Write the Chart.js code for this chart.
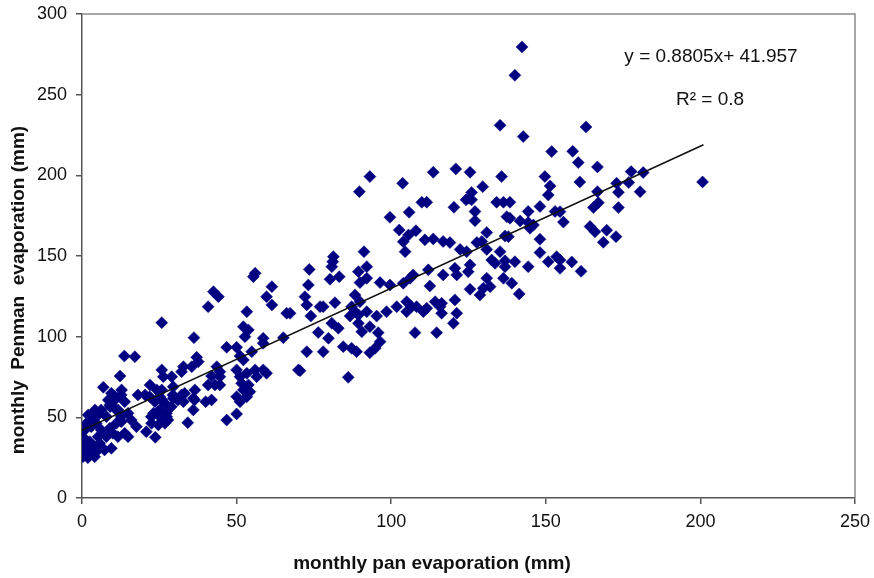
<!DOCTYPE html>
<html>
<head>
<meta charset="utf-8">
<script src="https://cdn.jsdelivr.net/npm/chart.js@4.4.1/dist/chart.umd.min.js"></script>
<style>
html,body{margin:0;padding:0;background:#fff;}
#wrap{width:874px;height:578px;}
</style>
</head>
<body>
<div id="wrap"><canvas id="c" width="874" height="578"></canvas></div>
<script>
// monthly pan evaporation (mm)
const panEvap = [
142.3,140.0,135.2,142.7,163.0,151.9,158.7,160.5,166.7,161.0,200.7,177.6,181.5,172.9,176.8,173.5,180.5,166.7,167.0,165.4,
173.5,155.7,154.6,164.3,165.9,169.7,172.7,168.6,158.4,161.4,154.6,154.6,120.9,125.5,135.7,149.7,151.4,150.8,129.6,126.0,
125.0,126.0,124.2,134.1,136.3,138.4,120.3,127.1,127.1,137.4,138.4,144.3,148.1,153.0,141.7,144.3,146.0,144.9,130.9,136.8,
137.9,148.1,116.8,119.0,127.7,129.3,130.9,122.3,124.4,135.2,148.1,132.5,133.6,136.8,136.8,140.0,144.3,150.8,153.5,116.8,
120.6,121.2,125.5,124.9,136.3,139.0,130.9,132.0,129.8,128.7,125.5,141.4,116.3,116.3,120.6,121.2,120.1,93.1,89.7,103.7,
113.6,109.9,111.5,99.6,105.8,102.6,105.6,108.0,103.9,104.5,110.9,113.6,91.2,81.3,81.1,80.8,73.5,92.1,89.4,92.1,
83.2,80.2,73.2,89.9,96.4,99.6,103.9,106.1,107.1,112.0,112.5,88.3,89.9,81.8,72.1,72.7,77.0,78.0,74.0,67.3,
87.2,88.3,86.7,89.4,92.1,95.3,98.5,101.8,105.0,106.6,105.0,108.2,110.4,111.5,114.2,115.8,80.8,82.9,76.4,79.7,
89.4,90.5,93.1,95.8,107.7,114.7,96.4,94.8,93.1,88.8,87.2,84.5,78.0,72.7,70.5,86.1,56.0,55.4,61.4,42.5,
44.1,59.7,61.4,40.8,53.3,66.2,25.8,52.2,53.8,52.7,36.2,58.6,58.6,65.1,46.8,50.0,51.1,54.9,52.2,37.1,
37.6,35.5,32.8,32.2,29.0,25.8,26.3,43.6,44.6,41.9,44.6,43.0,40.8,44.6,50.0,51.1,53.3,56.0,56.5,58.6,
59.7,51.6,53.8,52.2,54.3,50.0,51.1,53.3,70.0,22.0,20.4,24.2,25.2,23.6,26.8,25.2,23.1,25.2,27.4,22.5,
24.7,26.8,29.5,32.2,29.5,32.8,36.5,36.0,40.0,41.9,36.0,46.8,50.0,34.2,18.1,21.9,9.5,12.7,10.6,13.8,
9.0,6.2,5.2,7.9,11.1,12.7,14.9,15.9,12.7,11.1,3.0,1.4,3.0,0.9,4.6,6.2,9.0,10.0,7.9,5.2,
11.6,13.8,14.9,0.2,0.9,2.5,0.2,1.4,3.6,5.7,0.3,2.5,4.6,7.3,9.5,0.3,1.9,4.1,17.6,20.8,
23.7,22.4,24.6,27.3,27.8,28.9,31.0,29.4,33.2,36.4,13.7,17.1,12.3,6.9,10.7,8.5,12.8,25.8,25.8,4.2,
2.0,9.1,11.7
];
// monthly Penman evaporation (mm)
const penmanEvap = [
279.6,262.0,231.0,224.0,230.0,214.7,214.9,207.9,205.2,195.9,195.9,202.3,201.7,195.1,195.5,189.5,189.9,189.9,183.0,180.0,
180.0,171.0,177.5,168.3,165.0,166.0,162.0,158.5,146.3,140.5,147.5,142.4,204.0,201.9,199.2,199.2,193.4,187.8,193.0,189.3,
185.8,184.8,184.8,183.3,183.3,183.3,180.2,177.6,171.9,174.4,173.4,177.6,180.7,177.6,171.7,170.7,169.2,167.2,164.5,162.4,
162.0,160.4,159.0,158.3,158.3,159.0,154.1,154.1,152.7,152.7,152.1,147.5,145.5,147.1,143.4,146.5,143.4,146.5,149.6,138.3,
142.4,138.3,144.5,140.3,136.2,133.1,136.2,131.0,130.0,125.9,129.4,126.5,120.7,114.5,122.8,114.5,108.3,199.2,189.9,195.1,
201.9,183.3,183.3,174.0,177.1,166.1,163.0,165.7,158.9,152.7,160.0,160.6,152.7,149.6,146.5,143.4,141.7,143.4,140.3,136.2,
137.2,135.6,132.0,133.5,133.5,132.0,133.1,136.2,138.3,141.4,131.4,125.9,121.7,121.1,124.8,119.7,118.6,118.6,112.8,114.5,
118.6,115.5,112.8,113.5,115.5,112.8,115.5,118.6,121.7,118.6,115.5,118.6,115.5,117.6,121.7,118.6,108.3,105.2,102.6,99.0,
108.3,103.1,106.2,102.5,102.5,102.5,96.9,92.8,90.1,90.7,92.8,93.8,90.7,90.7,78.9,74.8,139.3,137.2,131.0,127.9,
124.8,124.8,119.7,118.6,115.5,114.5,108.7,106.2,104.2,100.0,99.4,99.0,95.9,99.4,93.4,93.4,88.0,90.7,85.6,87.2,
84.5,81.4,81.4,78.3,75.2,79.4,75.2,81.4,78.3,75.6,75.2,70.1,70.1,70.1,79.4,75.2,77.3,79.4,75.2,79.4,
77.3,71.1,70.1,67.0,65.9,62.8,59.7,62.8,79.4,70.1,63.9,67.0,62.8,59.7,58.7,54.6,52.5,50.4,50.4,46.3,
45.3,46.3,69.0,63.9,61.8,59.7,67.0,61.8,59.7,60.8,54.6,48.3,52.1,46.7,63.9,62.8,64.9,63.9,60.8,59.7,
57.7,54.6,51.5,50.4,54.6,50.4,52.5,48.4,47.3,46.3,50.4,46.3,44.2,42.2,46.3,42.2,43.2,40.1,38.0,38.0,
38.0,40.1,38.0,38.0,36.0,34.9,32.9,30.8,31.8,33.9,27.7,27.7,28.7,29.8,30.8,25.6,25.0,25.6,44.2,41.1,
37.6,50.4,53.5,52.5,48.4,56.6,60.8,63.9,64.9,60.8,88.0,87.6,75.6,68.6,62.8,60.8,67.0,67.0,60.8,54.6,
51.5,56.6,54.6
];
// linear trend shown on the chart: y = 0.8805x + 41.957, drawn over the data range
const trendSlope = 0.8805;
const trendIntercept = 41.957;
const trendX = [0, 201];
const xTicks = [0, 50, 100, 150, 200, 250];
const yTicks = [0, 50, 100, 150, 200, 250, 300];
const equationText = "y = 0.8805x+ 41.957";
const r2Text = "R\u00B2 = 0.8";
const xTitle = "monthly pan evaporation (mm)";
const yTitle = "monthly  Penman  evaporation (mm)";

const points = panEvap.map((x, i) => ({x: x, y: penmanEvap[i]}));
const trendPts = trendX.map(x => ({x: x, y: trendSlope * x + trendIntercept}));

const frameAndText = {
  id: 'frameAndText',
  beforeDatasetsDraw(chart) {
    const {ctx, chartArea: a} = chart;
    ctx.save();
    ctx.strokeStyle = '#8a8a8a';
    ctx.lineWidth = 1.5;
    ctx.beginPath();
    ctx.moveTo(a.left, a.top);
    ctx.lineTo(a.right, a.top);
    ctx.lineTo(a.right, a.bottom);
    ctx.stroke();
    ctx.restore();
  },
  afterDraw(chart) {
    const {ctx} = chart;
    ctx.save();
    ctx.fillStyle = '#111';
    ctx.textAlign = 'center';
    ctx.textBaseline = 'middle';
    ctx.font = '19px "Liberation Sans", Arial, sans-serif';
    ctx.fillText(equationText, 711, 57);
    ctx.fillText(r2Text, 710, 100);
    ctx.font = 'bold 19px "Liberation Sans", Arial, sans-serif';
    ctx.fillText(xTitle, 432, 564);
    ctx.translate(19, 290);
    ctx.rotate(-Math.PI / 2);
    ctx.fillText(yTitle, 0, 0);
    ctx.restore();
  }
};

new Chart(document.getElementById('c'), {
  type: 'scatter',
  data: {
    datasets: [
      {
        label: 'data',
        data: points,
        pointStyle: 'rectRot',
        pointRadius: 6,
        pointHoverRadius: 6,
        backgroundColor: '#000080',
        borderColor: '#000080',
        borderWidth: 0.5,
        order: 2
      },
      {
        label: 'trend',
        type: 'line',
        data: trendPts,
        showLine: true,
        pointRadius: 0,
        borderColor: '#111',
        borderWidth: 1.5,
        fill: false,
        order: 1
      }
    ]
  },
  options: {
    responsive: false,
    animation: false,
    devicePixelRatio: 1,
    layout: {padding: {left: 0, top: 14, right: 19, bottom: 0}},
    plugins: {legend: {display: false}, tooltip: {enabled: false}},
    scales: {
      x: {
        type: 'linear',
        min: 0, max: 250,
        afterBuildTicks: s => { s.ticks = xTicks.map(v => ({value: v})); },
        afterFit: s => { s.height = 80; s.paddingLeft = 0; s.paddingRight = 0; },
        grid: {drawOnChartArea: false, drawTicks: true, tickLength: 6, color: '#555', lineWidth: 1.5},
        border: {color: '#555', width: 1.5},
        ticks: {color: '#111', padding: 7, maxRotation: 0, font: {family: '"Liberation Sans", Arial, sans-serif', size: 18}}
      },
      y: {
        type: 'linear',
        min: 0, max: 300,
        afterBuildTicks: s => { s.ticks = yTicks.map(v => ({value: v})); },
        afterFit: s => { s.width = 82; s.paddingTop = 0; s.paddingBottom = 0; },
        grid: {drawOnChartArea: false, drawTicks: true, tickLength: 6, color: '#555', lineWidth: 1.5},
        border: {color: '#555', width: 1.5},
        ticks: {color: '#111', padding: 9, font: {family: '"Liberation Sans", Arial, sans-serif', size: 18}}
      }
    }
  },
  plugins: [frameAndText]
});
</script>
</body>
</html>
